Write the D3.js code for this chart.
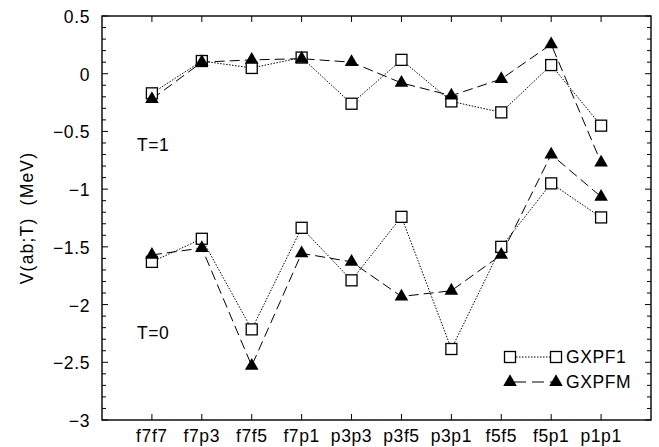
<!DOCTYPE html>
<html><head><meta charset="utf-8">
<script src="https://cdn.jsdelivr.net/npm/d3@7"></script>
<style>body{margin:0;background:#fff}svg{display:block}text{font-family:"Liberation Sans",Arial,sans-serif;font-size:17.5px;letter-spacing:0.6px}</style>
</head><body><svg id="c" width="659" height="447"></svg>
<script>
const categories = ["f7f7","f7p3","f7f5","f7p1","p3p3","p3f5","p3p1","f5f5","f5p1","p1p1"];
const gxpf1T1 = [-0.17, 0.11, 0.05, 0.14, -0.26, 0.12, -0.24, -0.335, 0.075, -0.45];
const gxpfmT1 = [-0.22, 0.10, 0.12, 0.13, 0.10, -0.08, -0.19, -0.046, 0.255, -0.77];
const gxpf1T0 = [-1.63, -1.43, -2.215, -1.335, -1.79, -1.24, -2.385, -1.50, -0.95, -1.245];
const gxpfmT0 = [-1.57, -1.51, -2.53, -1.556, -1.63, -1.93, -1.88, -1.57, -0.70, -1.066];
const yTicks = [0.5, 0, -0.5, -1, -1.5, -2, -2.5, -3];
const seriesNames = ["GXPF1", "GXPFM"];

const svg = d3.select("#c");
const L = 102, R = 651, T = 16, B = 420;
const x = d3.scaleLinear().domain([-1, 10]).range([L, R]);
const y = d3.scaleLinear().domain([-3, 0.5]).range([B, T]);
const fmt = v => v === 0 ? "0" : String(v).replace("-", "\u2212");

// frame
svg.append("rect").attr("x", L).attr("y", T).attr("width", R - L).attr("height", B - T)
  .attr("fill", "none").attr("stroke", "#000").attr("stroke-width", 1.4);

const minor = d3.range(-3, 0.5001, 0.1).map(v => Math.round(v * 10) / 10);
const g = svg.append("g").attr("stroke", "#000").attr("stroke-width", 1);
minor.forEach(v => {
  const major = Math.abs(v * 2 - Math.round(v * 2)) < 1e-6;
  const len = major ? 6 : 4;
  g.append("line").attr("x1", L).attr("x2", L + len).attr("y1", y(v)).attr("y2", y(v));
  g.append("line").attr("x1", R).attr("x2", R - len).attr("y1", y(v)).attr("y2", y(v));
});
categories.forEach((c, i) => {
  g.append("line").attr("x1", x(i)).attr("x2", x(i)).attr("y1", B).attr("y2", B - 6);
  g.append("line").attr("x1", x(i)).attr("x2", x(i)).attr("y1", T).attr("y2", T + 6);
});
// y tick labels
svg.append("g").selectAll("text").data(yTicks).join("text")
  .attr("x", L - 12).attr("y", d => y(d) + 7).attr("text-anchor", "end").text(fmt);
// x tick labels
svg.append("g").selectAll("text").data(categories).join("text")
  .attr("x", (d, i) => x(i)).attr("y", B + 22).attr("text-anchor", "middle").text(d => d);
// y label
svg.append("text").attr("transform", `translate(33,${(T + B) / 2}) rotate(-90)`)
  .attr("text-anchor", "middle").attr("xml:space", "preserve").style("letter-spacing", "1.2px")
  .text("V(ab;T)  (MeV)");
// T labels
svg.append("text").attr("x", 137).attr("y", y(-0.67)).text("T=1");
svg.append("text").attr("x", 137).attr("y", y(-2.3)).text("T=0");

const line = d3.line().x((d, i) => x(i)).y(d => y(d));
const dotted = "1.5,1.5", dashed = "10,5";
function drawLine(data, dash) {
  svg.append("path").datum(data).attr("d", line).attr("fill", "none")
    .attr("stroke", "#000").attr("stroke-width", 1).attr("stroke-dasharray", dash);
}
drawLine(gxpf1T1, dotted); drawLine(gxpf1T0, dotted);
drawLine(gxpfmT1, dashed); drawLine(gxpfmT0, dashed);

const sq = 11;
function squares(data) {
  svg.append("g").selectAll("rect").data(data).join("rect")
    .attr("x", (d, i) => x(i) - sq / 2).attr("y", d => y(d) - sq / 2)
    .attr("width", sq).attr("height", sq).attr("fill", "#fff").attr("stroke", "#000").attr("stroke-width", 1.3);
}
const tri = d3.symbol().type(d3.symbolTriangle).size(80);
function triangles(data) {
  svg.append("g").selectAll("path").data(data).join("path")
    .attr("transform", (d, i) => `translate(${x(i)},${y(d)})`).attr("d", tri).attr("fill", "#000");
}
squares(gxpf1T1); squares(gxpf1T0);
triangles(gxpfmT1); triangles(gxpfmT0);

// legend
const lx1 = 510, lx2 = 556, ly1 = 357, ly2 = 382;
svg.append("line").attr("x1", lx1).attr("x2", lx2).attr("y1", ly1).attr("y2", ly1)
  .attr("stroke", "#000").attr("stroke-dasharray", dotted);
svg.append("line").attr("x1", lx1).attr("x2", lx2).attr("y1", ly2).attr("y2", ly2)
  .attr("stroke", "#000").attr("stroke-dasharray", "12,6").attr("stroke-dashoffset", -4);
[lx1, lx2].forEach(px => {
  svg.append("rect").attr("x", px - sq / 2).attr("y", ly1 - sq / 2).attr("width", sq).attr("height", sq)
    .attr("fill", "#fff").attr("stroke", "#000").attr("stroke-width", 1.3);
  svg.append("path").attr("transform", `translate(${px},${ly2})`).attr("d", tri).attr("fill", "#000");
});
svg.append("text").attr("x", 566).attr("y", ly1 + 6).text(seriesNames[0]);
svg.append("text").attr("x", 566).attr("y", ly2 + 6).text(seriesNames[1]);
</script></body></html>
